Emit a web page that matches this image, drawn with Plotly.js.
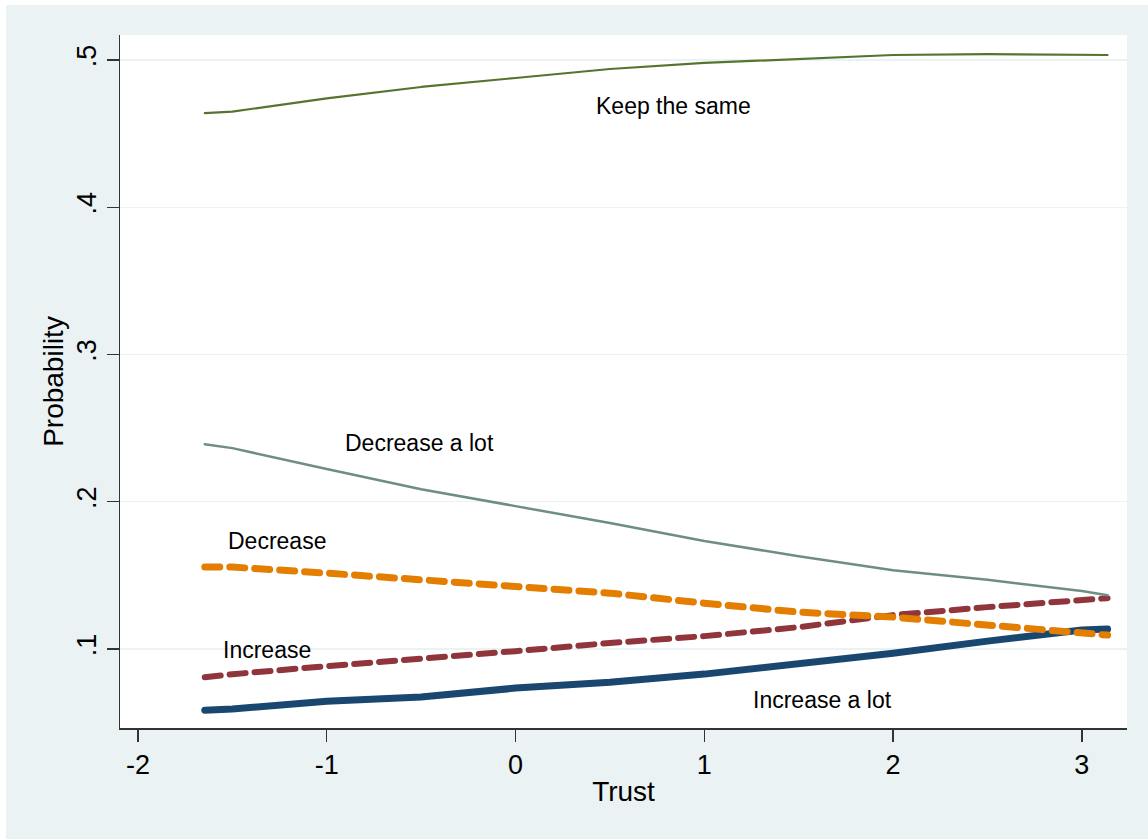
<!DOCTYPE html>
<html>
<head>
<meta charset="utf-8">
<script src="https://cdn.plot.ly/plotly-3.0.1.min.js"></script>
<style>
html,body{margin:0;padding:0;background:#ffffff;}
#chart{position:absolute;left:6px;top:5px;width:1142px;height:834px;}
#chart path.js-line{stroke-linecap:round !important;stroke-linejoin:round !important;}
</style>
</head>
<body>
<div id="chart"></div>
<script>
// Trust values (x)
const trust = [-1.646, -1.5, -1, -0.5, 0, 0.5, 1, 1.5, 2, 2.5, 3, 3.136];
// Predicted probabilities
const keepSame     = [0.464, 0.465, 0.474, 0.4817, 0.4878, 0.4939, 0.498, 0.5007, 0.5034, 0.504, 0.5034, 0.5034];
const decreaseLot  = [0.2391, 0.2364, 0.2222, 0.2085, 0.1970, 0.1855, 0.1733, 0.1630, 0.1535, 0.1470, 0.1393, 0.1365];
const decrease     = [0.1556, 0.1556, 0.1515, 0.1467, 0.1427, 0.1379, 0.1311, 0.1250, 0.1216, 0.1162, 0.1114, 0.1094];
const increase     = [0.0808, 0.0828, 0.0883, 0.0930, 0.0985, 0.1040, 0.1087, 0.1148, 0.1230, 0.1284, 0.1332, 0.1345];
const increaseLot  = [0.0584, 0.0592, 0.0645, 0.0673, 0.0734, 0.0774, 0.0829, 0.0897, 0.0971, 0.1053, 0.1128, 0.1135];

// Labels
const labelText = ["Keep the same", "Decrease a lot", "Decrease", "Increase", "Increase a lot"];
const labelX    = [0.835, -0.506, -1.265, -1.318, 1.625];
const labelY    = [0.4687, 0.2398, 0.1732, 0.0992, 0.0652];

// Axis ticks
const xTicks = [-2, -1, 0, 1, 2, 3];
const xTickText = ["-2", "-1", "0", "1", "2", "3"];
const yTicks = [0.1, 0.2, 0.3, 0.4, 0.5];
const yTickText = [".1", ".2", ".3", ".4", ".5"];

const traces = [
  {x: trust, y: increaseLot, mode: 'lines', name: 'Increase a lot', line: {color: '#1A476F', width: 7}},
  {x: trust, y: increase, mode: 'lines', name: 'Increase', line: {color: '#90353B', width: 6, dash: '16px,9px'}},
  {x: trust, y: keepSame, mode: 'lines', name: 'Keep the same', line: {color: '#55752F', width: 2.2}},
  {x: trust, y: decreaseLot, mode: 'lines', name: 'Decrease a lot', line: {color: '#6E8E84', width: 2.5}},
  {x: trust, y: decrease, mode: 'lines', name: 'Decrease', line: {color: '#E37E00', width: 7, dash: '15px,10px'}}
];

const annotations = labelText.map((t, i) => ({
  x: labelX[i], y: labelY[i], xref: 'x', yref: 'y', text: t, showarrow: false,
  font: {family: 'Liberation Sans, Arial, sans-serif', size: 23, color: '#000'},
  xanchor: 'center', yanchor: 'middle'
}));

const layout = {
  width: 1142, height: 834,
  margin: {l: 114, r: 21, t: 30, b: 111},
  paper_bgcolor: '#EAF2F3',
  plot_bgcolor: '#FFFFFF',
  showlegend: false,
  font: {family: 'Liberation Sans, Arial, sans-serif', color: '#000'},
  xaxis: {
    range: [-2.095, 3.239], tickvals: xTicks, ticktext: xTickText,
    showgrid: false, zeroline: false, showline: true, linecolor: '#333', linewidth: 1.5,
    ticks: 'outside', ticklen: 12, tickwidth: 1.5, tickcolor: '#333',
    tickfont: {size: 27, color: '#000'},
    title: {text: 'Trust', font: {size: 28, color: '#000'}, standoff: 2}
  },
  yaxis: {
    range: [0.0463, 0.517], tickvals: yTicks, ticktext: yTickText,
    showgrid: true, gridcolor: '#EAF2F3', gridwidth: 1.5,
    zeroline: false, showline: true, linecolor: '#333', linewidth: 1.5,
    ticks: 'outside', ticklen: 12, tickwidth: 1.5, tickcolor: '#333',
    tickangle: -90,
    tickfont: {size: 27, color: '#000'},
    title: {text: 'Probability', font: {size: 28, color: '#000'}, standoff: 0}
  },
  annotations: annotations
};

Plotly.newPlot('chart', traces, layout, {displayModeBar: false, staticPlot: true});
</script>
</body>
</html>
